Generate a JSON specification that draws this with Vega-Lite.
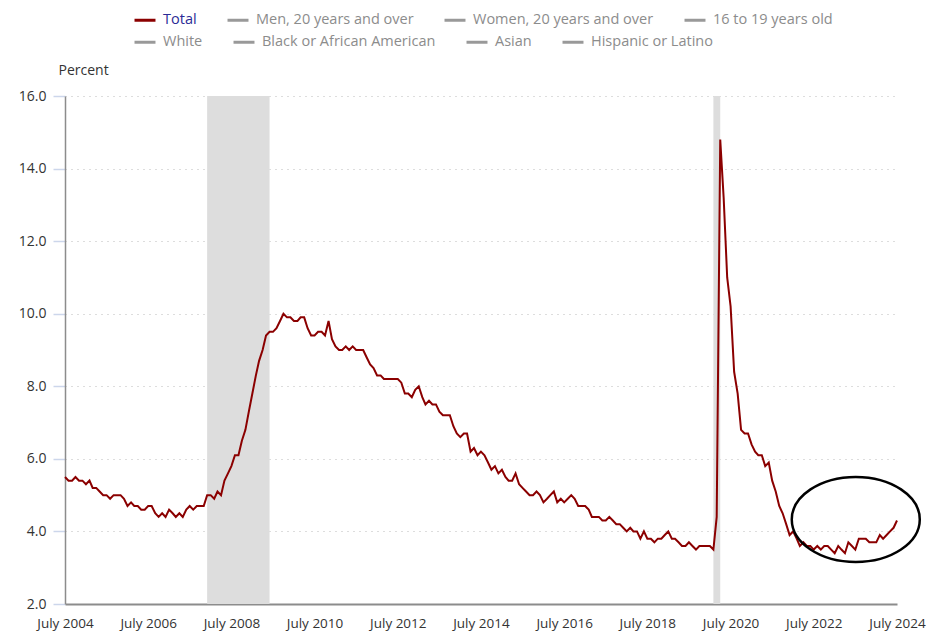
{
  "$schema": "https://vega.github.io/schema/vega-lite/v6.json",
  "autosize": "none",
  "width": 832,
  "height": 508,
  "padding": {"left": 65, "top": 96, "right": 33, "bottom": 31},
  "background": "white",
  "config": {
    "font": "Open Sans",
    "view": {"stroke": null},
    "legend": {
      "orient": "none",
      "direction": "horizontal",
      "symbolType": "stroke",
      "symbolSize": 440,
      "symbolStrokeWidth": 3,
      "labelOffset": 6,
      "labelFont": "Open Sans",
      "labelFontSize": 14.5,
      "labelLimit": 400,
      "columnPadding": 24,
      "rowPadding": 0
    }
  },
  "datasets": {
    "rate": [
      {"date":"2004-07-01","value":5.5},{"date":"2004-08-01","value":5.4},{"date":"2004-09-01","value":5.4},{"date":"2004-10-01","value":5.5},{"date":"2004-11-01","value":5.4},{"date":"2004-12-01","value":5.4},
      {"date":"2005-01-01","value":5.3},{"date":"2005-02-01","value":5.4},{"date":"2005-03-01","value":5.2},{"date":"2005-04-01","value":5.2},{"date":"2005-05-01","value":5.1},{"date":"2005-06-01","value":5.0},{"date":"2005-07-01","value":5.0},{"date":"2005-08-01","value":4.9},{"date":"2005-09-01","value":5.0},{"date":"2005-10-01","value":5.0},{"date":"2005-11-01","value":5.0},{"date":"2005-12-01","value":4.9},
      {"date":"2006-01-01","value":4.7},{"date":"2006-02-01","value":4.8},{"date":"2006-03-01","value":4.7},{"date":"2006-04-01","value":4.7},{"date":"2006-05-01","value":4.6},{"date":"2006-06-01","value":4.6},{"date":"2006-07-01","value":4.7},{"date":"2006-08-01","value":4.7},{"date":"2006-09-01","value":4.5},{"date":"2006-10-01","value":4.4},{"date":"2006-11-01","value":4.5},{"date":"2006-12-01","value":4.4},
      {"date":"2007-01-01","value":4.6},{"date":"2007-02-01","value":4.5},{"date":"2007-03-01","value":4.4},{"date":"2007-04-01","value":4.5},{"date":"2007-05-01","value":4.4},{"date":"2007-06-01","value":4.6},{"date":"2007-07-01","value":4.7},{"date":"2007-08-01","value":4.6},{"date":"2007-09-01","value":4.7},{"date":"2007-10-01","value":4.7},{"date":"2007-11-01","value":4.7},{"date":"2007-12-01","value":5.0},
      {"date":"2008-01-01","value":5.0},{"date":"2008-02-01","value":4.9},{"date":"2008-03-01","value":5.1},{"date":"2008-04-01","value":5.0},{"date":"2008-05-01","value":5.4},{"date":"2008-06-01","value":5.6},{"date":"2008-07-01","value":5.8},{"date":"2008-08-01","value":6.1},{"date":"2008-09-01","value":6.1},{"date":"2008-10-01","value":6.5},{"date":"2008-11-01","value":6.8},{"date":"2008-12-01","value":7.3},
      {"date":"2009-01-01","value":7.8},{"date":"2009-02-01","value":8.3},{"date":"2009-03-01","value":8.7},{"date":"2009-04-01","value":9.0},{"date":"2009-05-01","value":9.4},{"date":"2009-06-01","value":9.5},{"date":"2009-07-01","value":9.5},{"date":"2009-08-01","value":9.6},{"date":"2009-09-01","value":9.8},{"date":"2009-10-01","value":10.0},{"date":"2009-11-01","value":9.9},{"date":"2009-12-01","value":9.9},
      {"date":"2010-01-01","value":9.8},{"date":"2010-02-01","value":9.8},{"date":"2010-03-01","value":9.9},{"date":"2010-04-01","value":9.9},{"date":"2010-05-01","value":9.6},{"date":"2010-06-01","value":9.4},{"date":"2010-07-01","value":9.4},{"date":"2010-08-01","value":9.5},{"date":"2010-09-01","value":9.5},{"date":"2010-10-01","value":9.4},{"date":"2010-11-01","value":9.8},{"date":"2010-12-01","value":9.3},
      {"date":"2011-01-01","value":9.1},{"date":"2011-02-01","value":9.0},{"date":"2011-03-01","value":9.0},{"date":"2011-04-01","value":9.1},{"date":"2011-05-01","value":9.0},{"date":"2011-06-01","value":9.1},{"date":"2011-07-01","value":9.0},{"date":"2011-08-01","value":9.0},{"date":"2011-09-01","value":9.0},{"date":"2011-10-01","value":8.8},{"date":"2011-11-01","value":8.6},{"date":"2011-12-01","value":8.5},
      {"date":"2012-01-01","value":8.3},{"date":"2012-02-01","value":8.3},{"date":"2012-03-01","value":8.2},{"date":"2012-04-01","value":8.2},{"date":"2012-05-01","value":8.2},{"date":"2012-06-01","value":8.2},{"date":"2012-07-01","value":8.2},{"date":"2012-08-01","value":8.1},{"date":"2012-09-01","value":7.8},{"date":"2012-10-01","value":7.8},{"date":"2012-11-01","value":7.7},{"date":"2012-12-01","value":7.9},
      {"date":"2013-01-01","value":8.0},{"date":"2013-02-01","value":7.7},{"date":"2013-03-01","value":7.5},{"date":"2013-04-01","value":7.6},{"date":"2013-05-01","value":7.5},{"date":"2013-06-01","value":7.5},{"date":"2013-07-01","value":7.3},{"date":"2013-08-01","value":7.2},{"date":"2013-09-01","value":7.2},{"date":"2013-10-01","value":7.2},{"date":"2013-11-01","value":6.9},{"date":"2013-12-01","value":6.7},
      {"date":"2014-01-01","value":6.6},{"date":"2014-02-01","value":6.7},{"date":"2014-03-01","value":6.7},{"date":"2014-04-01","value":6.2},{"date":"2014-05-01","value":6.3},{"date":"2014-06-01","value":6.1},{"date":"2014-07-01","value":6.2},{"date":"2014-08-01","value":6.1},{"date":"2014-09-01","value":5.9},{"date":"2014-10-01","value":5.7},{"date":"2014-11-01","value":5.8},{"date":"2014-12-01","value":5.6},
      {"date":"2015-01-01","value":5.7},{"date":"2015-02-01","value":5.5},{"date":"2015-03-01","value":5.4},{"date":"2015-04-01","value":5.4},{"date":"2015-05-01","value":5.6},{"date":"2015-06-01","value":5.3},{"date":"2015-07-01","value":5.2},{"date":"2015-08-01","value":5.1},{"date":"2015-09-01","value":5.0},{"date":"2015-10-01","value":5.0},{"date":"2015-11-01","value":5.1},{"date":"2015-12-01","value":5.0},
      {"date":"2016-01-01","value":4.8},{"date":"2016-02-01","value":4.9},{"date":"2016-03-01","value":5.0},{"date":"2016-04-01","value":5.1},{"date":"2016-05-01","value":4.8},{"date":"2016-06-01","value":4.9},{"date":"2016-07-01","value":4.8},{"date":"2016-08-01","value":4.9},{"date":"2016-09-01","value":5.0},{"date":"2016-10-01","value":4.9},{"date":"2016-11-01","value":4.7},{"date":"2016-12-01","value":4.7},
      {"date":"2017-01-01","value":4.7},{"date":"2017-02-01","value":4.6},{"date":"2017-03-01","value":4.4},{"date":"2017-04-01","value":4.4},{"date":"2017-05-01","value":4.4},{"date":"2017-06-01","value":4.3},{"date":"2017-07-01","value":4.3},{"date":"2017-08-01","value":4.4},{"date":"2017-09-01","value":4.3},{"date":"2017-10-01","value":4.2},{"date":"2017-11-01","value":4.2},{"date":"2017-12-01","value":4.1},
      {"date":"2018-01-01","value":4.0},{"date":"2018-02-01","value":4.1},{"date":"2018-03-01","value":4.0},{"date":"2018-04-01","value":4.0},{"date":"2018-05-01","value":3.8},{"date":"2018-06-01","value":4.0},{"date":"2018-07-01","value":3.8},{"date":"2018-08-01","value":3.8},{"date":"2018-09-01","value":3.7},{"date":"2018-10-01","value":3.8},{"date":"2018-11-01","value":3.8},{"date":"2018-12-01","value":3.9},
      {"date":"2019-01-01","value":4.0},{"date":"2019-02-01","value":3.8},{"date":"2019-03-01","value":3.8},{"date":"2019-04-01","value":3.7},{"date":"2019-05-01","value":3.6},{"date":"2019-06-01","value":3.6},{"date":"2019-07-01","value":3.7},{"date":"2019-08-01","value":3.6},{"date":"2019-09-01","value":3.5},{"date":"2019-10-01","value":3.6},{"date":"2019-11-01","value":3.6},{"date":"2019-12-01","value":3.6},
      {"date":"2020-01-01","value":3.6},{"date":"2020-02-01","value":3.5},{"date":"2020-03-01","value":4.4},{"date":"2020-04-01","value":14.8},{"date":"2020-05-01","value":13.2},{"date":"2020-06-01","value":11.0},{"date":"2020-07-01","value":10.2},{"date":"2020-08-01","value":8.4},{"date":"2020-09-01","value":7.8},{"date":"2020-10-01","value":6.8},{"date":"2020-11-01","value":6.7},{"date":"2020-12-01","value":6.7},
      {"date":"2021-01-01","value":6.4},{"date":"2021-02-01","value":6.2},{"date":"2021-03-01","value":6.1},{"date":"2021-04-01","value":6.1},{"date":"2021-05-01","value":5.8},{"date":"2021-06-01","value":5.9},{"date":"2021-07-01","value":5.4},{"date":"2021-08-01","value":5.1},{"date":"2021-09-01","value":4.7},{"date":"2021-10-01","value":4.5},{"date":"2021-11-01","value":4.2},{"date":"2021-12-01","value":3.9},
      {"date":"2022-01-01","value":4.0},{"date":"2022-02-01","value":3.8},{"date":"2022-03-01","value":3.6},{"date":"2022-04-01","value":3.7},{"date":"2022-05-01","value":3.6},{"date":"2022-06-01","value":3.6},{"date":"2022-07-01","value":3.5},{"date":"2022-08-01","value":3.6},{"date":"2022-09-01","value":3.5},{"date":"2022-10-01","value":3.6},{"date":"2022-11-01","value":3.6},{"date":"2022-12-01","value":3.5},
      {"date":"2023-01-01","value":3.4},{"date":"2023-02-01","value":3.6},{"date":"2023-03-01","value":3.5},{"date":"2023-04-01","value":3.4},{"date":"2023-05-01","value":3.7},{"date":"2023-06-01","value":3.6},{"date":"2023-07-01","value":3.5},{"date":"2023-08-01","value":3.8},{"date":"2023-09-01","value":3.8},{"date":"2023-10-01","value":3.8},{"date":"2023-11-01","value":3.7},{"date":"2023-12-01","value":3.7},
      {"date":"2024-01-01","value":3.7},{"date":"2024-02-01","value":3.9},{"date":"2024-03-01","value":3.8},{"date":"2024-04-01","value":3.9},{"date":"2024-05-01","value":4.0},{"date":"2024-06-01","value":4.1},{"date":"2024-07-01","value":4.3}
    ],
    "recessions": [
      {"start":"2007-12-01","end":"2009-06-01"},
      {"start":"2020-02-01","end":"2020-04-01"}
    ],
    "highlight": [
      {"date":"2023-07-05","value":4.33}
    ],
    "empty": []
  },
  "layer": [
    {
      "data": {"name": "recessions"},
      "mark": {"type": "rect", "fill": "#dddddd", "opacity": 1},
      "encoding": {
        "x": {"field": "start", "type": "temporal"},
        "x2": {"field": "end"}
      }
    },
    {
      "data": {"name": "rate"},
      "transform": [{"calculate": "'Total'", "as": "series"}],
      "mark": {"type": "line", "strokeWidth": 2, "interpolate": "linear"},
      "encoding": {
        "x": {
          "field": "date", "type": "temporal",
          "scale": {"domain": ["2004-07-01", "2024-07-01"]},
          "axis": {
            "title": null,
            "values": ["2004-07-01","2006-07-01","2008-07-01","2010-07-01","2012-07-01","2014-07-01","2016-07-01","2018-07-01","2020-07-01","2022-07-01","2024-07-01"],
            "format": "%B %Y",
            "grid": false,
            "ticks": false,
            "domainColor": "#8c8c8c",
            "domainWidth": 2,
            "labelFont": "Open Sans",
            "labelFontSize": 13.5,
            "labelColor": "#333333",
            "labelPadding": 12,
            "labelFlush": false,
            "labelOverlap": false
          }
        },
        "y": {
          "field": "value", "type": "quantitative",
          "scale": {"domain": [2, 16], "nice": false, "zero": false},
          "axis": {
            "title": "Percent",
            "titleAngle": 0,
            "titleX": -7,
            "titleY": -26,
            "titleAlign": "left",
            "titleBaseline": "middle",
            "titleFont": "Open Sans",
            "titleFontSize": 14,
            "titleFontWeight": "normal",
            "titleColor": "#333333",
            "values": [2, 4, 6, 8, 10, 12, 14, 16],
            "format": ".1f",
            "grid": true,
            "gridColor": "#bbbbbb",
            "gridDash": [1, 5],
            "gridWidth": 1,
            "tickColor": "#ccd6eb",
            "tickSize": 12,
            "tickWidth": 1.5,
            "domainColor": "#8c8c8c",
            "domainWidth": 1.5,
            "labelFont": "Open Sans",
            "labelFontSize": 14,
            "labelColor": "#333333",
            "labelPadding": 7
          }
        },
        "color": {
          "field": "series", "type": "nominal",
          "scale": {
            "domain": ["Total", "Men, 20 years and over", "Women, 20 years and over", "16 to 19 years old"],
            "range": ["#8b0000", "#999999", "#999999", "#999999"]
          },
          "legend": {
            "title": null,
            "legendX": 68,
            "legendY": -88,
            "encode": {
              "labels": {"update": {"fill": {"signal": "datum.label === 'Total' ? '#2b2b96' : '#8c8c8c'"}}}
            }
          }
        }
      }
    },
    {
      "data": {"name": "empty"},
      "mark": {"type": "line", "strokeWidth": 2},
      "encoding": {
        "x": {"field": "date", "type": "temporal"},
        "y": {"field": "value", "type": "quantitative"},
        "strokeDash": {
          "field": "group", "type": "nominal",
          "scale": {
            "domain": ["White", "Black or African American", "Asian", "Hispanic or Latino"],
            "range": [[1, 0], [1, 0], [1, 0], [1, 0]]
          },
          "legend": {
            "title": null,
            "legendX": 68,
            "legendY": -66,
            "symbolStrokeColor": "#999999",
            "labelColor": "#8c8c8c"
          }
        }
      }
    },
    {
      "data": {"name": "highlight"},
      "mark": {
        "type": "point",
        "shape": "M -1 0 C -1 -0.3667 -0.5523 -0.664 0 -0.664 C 0.5523 -0.664 1 -0.3667 1 0 C 1 0.3667 0.5523 0.664 0 0.664 C -0.5523 0.664 -1 0.3667 -1 0 Z",
        "size": 16384,
        "filled": false,
        "stroke": "#000000",
        "strokeWidth": 2.5,
        "opacity": 1
      },
      "encoding": {
        "x": {"field": "date", "type": "temporal"},
        "y": {"field": "value", "type": "quantitative"}
      }
    }
  ]
}
